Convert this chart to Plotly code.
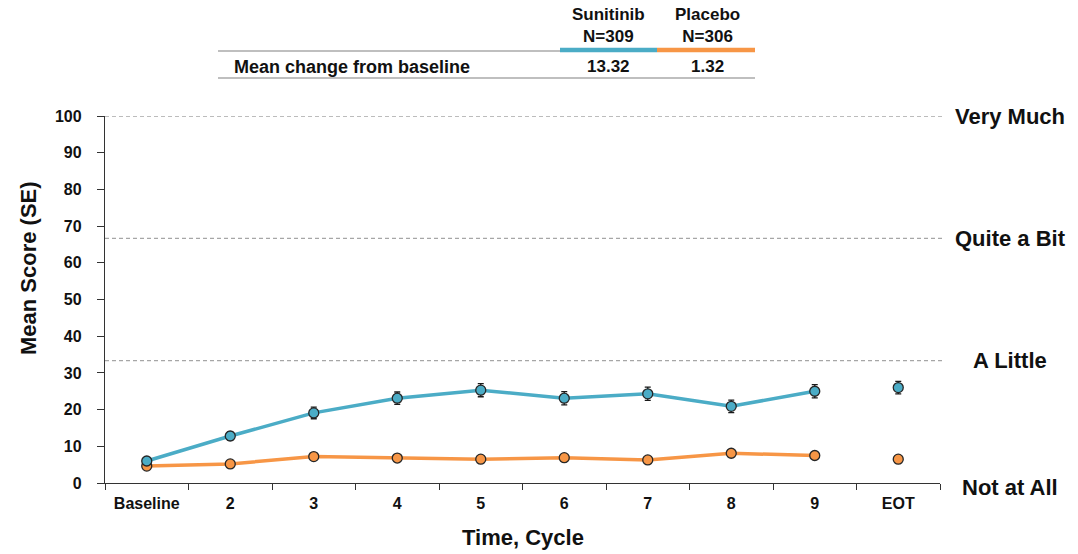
import plotly.graph_objects as go

categories = ["Baseline", "2", "3", "4", "5", "6", "7", "8", "9", "EOT"]
sunitinib = [6.0, 12.8, 19.1, 23.1, 25.3, 23.1, 24.3, 20.9, 25.0, 26.0]
sunitinib_se = [0.9, 1.2, 1.6, 1.7, 1.8, 1.8, 1.8, 1.7, 1.8, 1.7]
placebo = [4.6, 5.2, 7.2, 6.8, 6.5, 6.9, 6.3, 8.1, 7.5, 6.5]
placebo_se = [0.5, 0.6, 0.8, 0.8, 0.8, 0.8, 0.8, 0.9, 0.9, 0.8]
levels = [100, 66.67, 33.33, 0]
level_labels = ["Very Much", "Quite a Bit", "A Little", "Not at All"]
table_groups = ["Sunitinib<br>N=309", "Placebo<br>N=306"]
table_values = ["13.32", "1.32"]
x_title = "Time, Cycle"
y_title = "Mean Score (SE)"

BLUE = "#4BACC6"
ORANGE = "#F79646"
FONT = "Liberation Sans, Arial, sans-serif"
INK = "#111111"

fig = go.Figure()

def add_series(vals, se, color, name):
    fig.add_trace(go.Scatter(
        x=categories[:-1], y=vals[:-1], mode="lines",
        line=dict(color=color, width=3.5), showlegend=False, hoverinfo="skip"))
    fig.add_trace(go.Scatter(
        x=categories, y=vals, mode="markers", name=name,
        marker=dict(color=color, size=10, line=dict(color="#262626", width=1.3)),
        error_y=dict(type="data", array=se, visible=True, color="#1a1a1a",
                     thickness=1.3, width=3),
        showlegend=False))

add_series(placebo, placebo_se, ORANGE, "Placebo")
add_series(sunitinib, sunitinib_se, BLUE, "Sunitinib")

def px_x(px):
    return (px - 105) / 835.0

def px_y(py):
    return (483 - py) / 367.0

for lv, lab in zip(levels, level_labels):
    if lv > 0:
        fig.add_shape(type="line", xref="paper", yref="y", x0=0, x1=1.006,
                      y0=lv, y1=lv, line=dict(color="#A6A6A6", width=1.3, dash="4px,3px"),
                      layer="below")
        fig.add_annotation(xref="paper", yref="y", x=1.084, y=lv,
                           text=f"<b>{lab}</b>", showarrow=False,
                           font=dict(family=FONT, size=22, color=INK),
                           xanchor="center", yanchor="middle")
    else:
        fig.add_annotation(xref="paper", yref="paper", x=1.084, y=px_y(487),
                           text=f"<b>{lab}</b>", showarrow=False,
                           font=dict(family=FONT, size=22, color=INK),
                           xanchor="center", yanchor="middle")

fig.add_shape(type="line", xref="paper", yref="paper", x0=px_x(218), x1=px_x(560),
              y0=px_y(51), y1=px_y(51), line=dict(color="#808080", width=1.2))
fig.add_shape(type="line", xref="paper", yref="paper", x0=px_x(560), x1=px_x(657),
              y0=px_y(50), y1=px_y(50), line=dict(color=BLUE, width=4.5))
fig.add_shape(type="line", xref="paper", yref="paper", x0=px_x(657), x1=px_x(755),
              y0=px_y(50), y1=px_y(50), line=dict(color=ORANGE, width=4.5))
fig.add_shape(type="line", xref="paper", yref="paper", x0=px_x(218), x1=px_x(755),
              y0=px_y(78), y1=px_y(78), line=dict(color="#808080", width=1.2))

for cx, g, v in zip([608, 707], table_groups, table_values):
    fig.add_annotation(xref="paper", yref="paper", x=px_x(cx), y=px_y(26),
                       text=f"<b>{g}</b>", showarrow=False,
                       font=dict(family=FONT, size=17, color=INK),
                       xanchor="center", yanchor="middle")
    fig.add_annotation(xref="paper", yref="paper", x=px_x(cx), y=px_y(67),
                       text=f"<b>{v}</b>", showarrow=False,
                       font=dict(family=FONT, size=17, color=INK),
                       xanchor="center", yanchor="middle")
fig.add_annotation(xref="paper", yref="paper", x=px_x(232), y=px_y(67),
                   text="<b>Mean change from baseline</b>", showarrow=False,
                   font=dict(family=FONT, size=18, color=INK),
                   xanchor="left", yanchor="middle")

# axis titles
fig.add_annotation(xref="paper", yref="paper", x=px_x(523), y=px_y(537),
                   text=f"<b>{x_title}</b>", showarrow=False,
                   font=dict(family=FONT, size=22, color=INK),
                   xanchor="center", yanchor="middle")
fig.add_annotation(xref="paper", yref="paper", x=px_x(28), y=px_y(268),
                   text=f"<b>{y_title}</b>", showarrow=False, textangle=-90,
                   font=dict(family=FONT, size=22, color=INK),
                   xanchor="center", yanchor="middle")

fig.update_layout(
    width=1078, height=554,
    margin=dict(l=105, r=138, t=116, b=71),
    paper_bgcolor="white", plot_bgcolor="white",
    font=dict(family=FONT, color=INK),
    xaxis=dict(
        type="category", categoryorder="array", categoryarray=categories,
        showline=True, linecolor="#333333", linewidth=1.3,
        ticks="outside", tickson="boundaries", ticklen=6, tickcolor="#333333",
        showgrid=False, zeroline=False, automargin=False,
        tickfont=dict(family=FONT, size=16, color=INK, weight="bold"),
        ticklabelstandoff=6,
        range=[-0.5, 9.5],
    ),
    yaxis=dict(
        range=[0, 100], tickvals=list(range(0, 101, 10)),
        showline=True, linecolor="#333333", linewidth=1.3,
        ticks="outside", ticklen=7, tickcolor="#333333",
        showgrid=False, zeroline=False, automargin=False,
        tickfont=dict(family=FONT, size=16, color=INK, weight="bold"),
        ticklabelstandoff=12,
    ),
)

fig.write_html("out.html")
